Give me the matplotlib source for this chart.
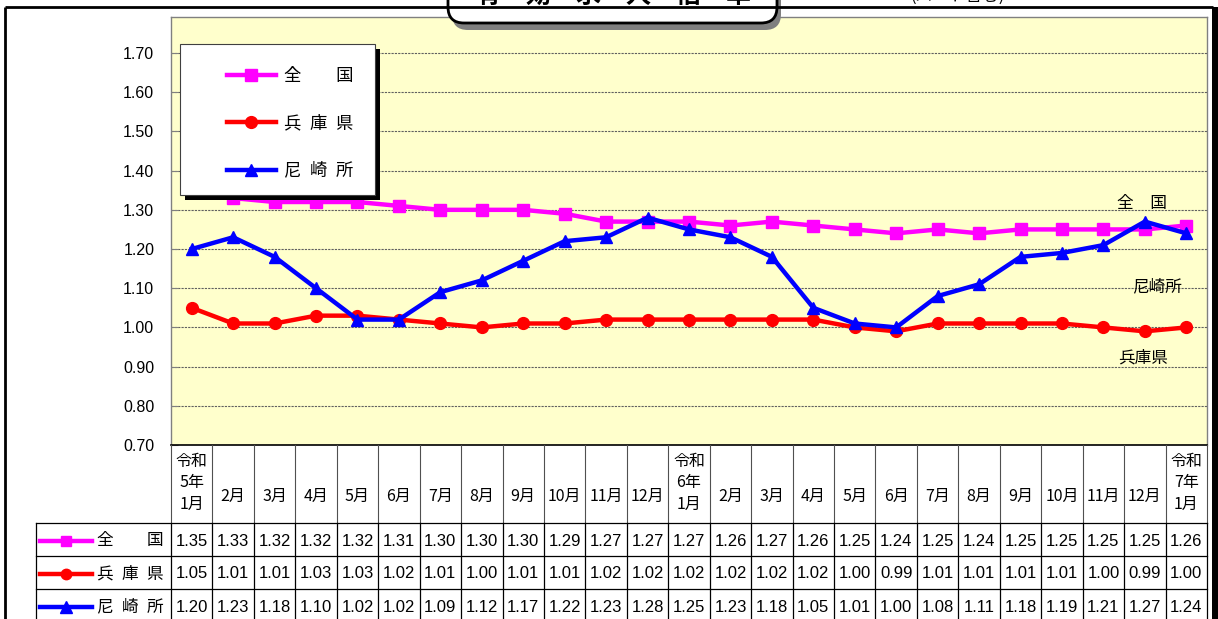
import numpy as np
import matplotlib
matplotlib.use('Agg')
import matplotlib.pyplot as plt
from matplotlib.patches import Rectangle, FancyBboxPatch
from matplotlib.lines import Line2D

plt.rcParams['font.family'] = ['Noto Sans CJK JP', 'DejaVu Sans']

# data
months = ['令和\n5年\n1月', '2月', '3月', '4月', '5月', '6月', '7月', '8月', '9月', '10月', '11月', '12月',
          '令和\n6年\n1月', '2月', '3月', '4月', '5月', '6月', '7月', '8月', '9月', '10月', '11月', '12月',
          '令和\n7年\n1月']
zenkoku = [1.35, 1.33, 1.32, 1.32, 1.32, 1.31, 1.30, 1.30, 1.30, 1.29, 1.27, 1.27,
           1.27, 1.26, 1.27, 1.26, 1.25, 1.24, 1.25, 1.24, 1.25, 1.25, 1.25, 1.25,
           1.26]
hyogo = [1.05, 1.01, 1.01, 1.03, 1.03, 1.02, 1.01, 1.00, 1.01, 1.01, 1.02, 1.02,
         1.02, 1.02, 1.02, 1.02, 1.00, 0.99, 1.01, 1.01, 1.01, 1.01, 1.00, 0.99,
         1.00]
amagasaki = [1.20, 1.23, 1.18, 1.10, 1.02, 1.02, 1.09, 1.12, 1.17, 1.22, 1.23, 1.28,
             1.25, 1.23, 1.18, 1.05, 1.01, 1.00, 1.08, 1.11, 1.18, 1.19, 1.21, 1.27,
             1.24]
series_names = ['全\u3000\u3000国', '兵\u2002庫\u2002県', '尼\u2002崎\u2002所']
yticks = [0.70, 0.80, 0.90, 1.00, 1.10, 1.20, 1.30, 1.40, 1.50, 1.60, 1.70]

colors = ['#FF00FF', '#FF0000', '#0000FF']
markers = ['s', 'o', '^']
msizes = [8.5, 8.5, 9]
all_series = [zenkoku, hyogo, amagasaki]

W, H = 1218, 619
fig = plt.figure(figsize=(W / 100, H / 100), dpi=100)
fig.patch.set_facecolor('white')


def fx(px):
    return px / W


def fy(py):
    return 1 - py / H


# plot area (pixels): x 171..1207, y 17..445
left, right, top, bottom = 171, 1207, 17, 445
ax = fig.add_axes([fx(left), fy(bottom), (right - left) / W, (bottom - top) / H])
ax.set_facecolor('#FFFFCC')
n = len(months)
x = np.arange(n) + 0.5
ax.set_xlim(0, n)
ax.set_ylim(0.70, 1.792)

handles = []
for vals, c, m, ms in zip(all_series, colors, markers, msizes):
    ln, = ax.plot(x, vals, color=c, lw=3.2, marker=m, markersize=ms, zorder=3)
    handles.append(ln)

ax.set_yticks(yticks)
ax.set_yticklabels([f'{v:.2f}' for v in yticks], family='Liberation Sans', fontsize=11.5)
ax.set_xticks([])
ax.tick_params(axis='y', direction='in', length=5, color='#808080', pad=12)
ax.yaxis.grid(True, linestyle=(0, (2, 1)), color='#606060', lw=0.8)
ax.set_axisbelow(True)
for s in ['left', 'right', 'top']:
    ax.spines[s].set_color('#808080')
    ax.spines[s].set_linewidth(1)
ax.spines['bottom'].set_color('black')
ax.spines['bottom'].set_linewidth(1.2)

# legend box with shadow
ax.add_patch(Rectangle((fx(185), fy(200)), 195 / W, 151 / H, transform=fig.transFigure,
                       facecolor='black', edgecolor='none', zorder=5))
ax.add_patch(Rectangle((fx(180), fy(195)), 195 / W, 151 / H, transform=fig.transFigure,
                       facecolor='white', edgecolor='#404040', lw=0.8, zorder=5.1))
leg = ax.legend(handles, series_names, loc='upper left', bbox_to_anchor=(fx(218), fy(58)),
                bbox_transform=fig.transFigure, frameon=False, borderpad=0,
                handlelength=2.85, handletextpad=0.45, labelspacing=1.7, fontsize=12.5)
leg.set_zorder(6)

# series labels at right end
fig.text(fx(1142), fy(204), '全\u3000国', ha='center', va='center', fontsize=12)
fig.text(fx(1157), fy(287), '尼崎所', ha='center', va='center', fontsize=12)
fig.text(fx(1143), fy(358), '兵庫県', ha='center', va='center', fontsize=12)

# overlay for frame, title and data table
ov = fig.add_axes([0, 0, 1, 1], zorder=5)
ov.set_xlim(0, W)
ov.set_ylim(H, 0)
ov.axis('off')
ov.patch.set_alpha(0)

# outer frame
ov.plot([5, 1213], [7, 7], color='black', lw=2, solid_capstyle='butt')
ov.plot([5, 5], [7, H], color='black', lw=2, solid_capstyle='butt')
ov.add_patch(Rectangle((1212, 7), 6, H, facecolor='black', edgecolor='none'))

# title box (cut off at the top edge, as in the source image)
ov.add_patch(FancyBboxPatch((452, -30), 329, 60, boxstyle='round,pad=0,rounding_size=16',
                            facecolor='#7f7f7f', edgecolor='none'))
ov.add_patch(FancyBboxPatch((448, -35), 329, 58, boxstyle='round,pad=0,rounding_size=16',
                            facecolor='white', edgecolor='black', lw=2))
ov.text(613, -3, '有\u3000効\u3000求\u3000人\u3000倍\u3000率', ha='center', va='center',
        fontsize=18, fontweight='bold')
ov.text(958, -4, '(パート含む)', ha='center', va='center', fontsize=12)

# data table
col_w = (right - left) / n
row_y = [523, 556, 589, 622]
for k in range(n + 1):
    xx = left + k * col_w
    ov.plot([xx, xx], [bottom, row_y[0]], color='#505050', lw=0.8)
    ov.plot([xx, xx], [row_y[0], H], color='black', lw=0.9)
for yy in row_y[:3]:
    ov.plot([36, right], [yy, yy], color='black', lw=0.9)
ov.plot([36, 36], [row_y[0], H], color='black', lw=0.9)

for i, lab in enumerate(months):
    cx = left + (i + 0.5) * col_w
    if '\n' in lab:
        ov.text(cx, 483, lab, ha='center', va='center', fontsize=11.5, linespacing=1.35)
    else:
        ov.text(cx, 496, lab, ha='center', va='center', fontsize=11.5)

for r, (vals, name, c, m, ms) in enumerate(zip(all_series, series_names, colors, markers, msizes)):
    cy = (row_y[r] + row_y[r + 1]) / 2 + 1.5
    ov.add_line(Line2D([40, 92], [cy, cy], color=c, lw=3.2))
    ov.add_line(Line2D([66], [cy], color=c, marker=m, markersize=ms - 1))
    ov.text(97, cy, name, ha='left', va='center', fontsize=12)
    for i, v in enumerate(vals):
        cx = left + (i + 0.5) * col_w
        ov.text(cx, cy, f'{v:.2f}', ha='center', va='center', fontsize=12,
                family='Liberation Sans')

fig.savefig('out.png', dpi=100)
